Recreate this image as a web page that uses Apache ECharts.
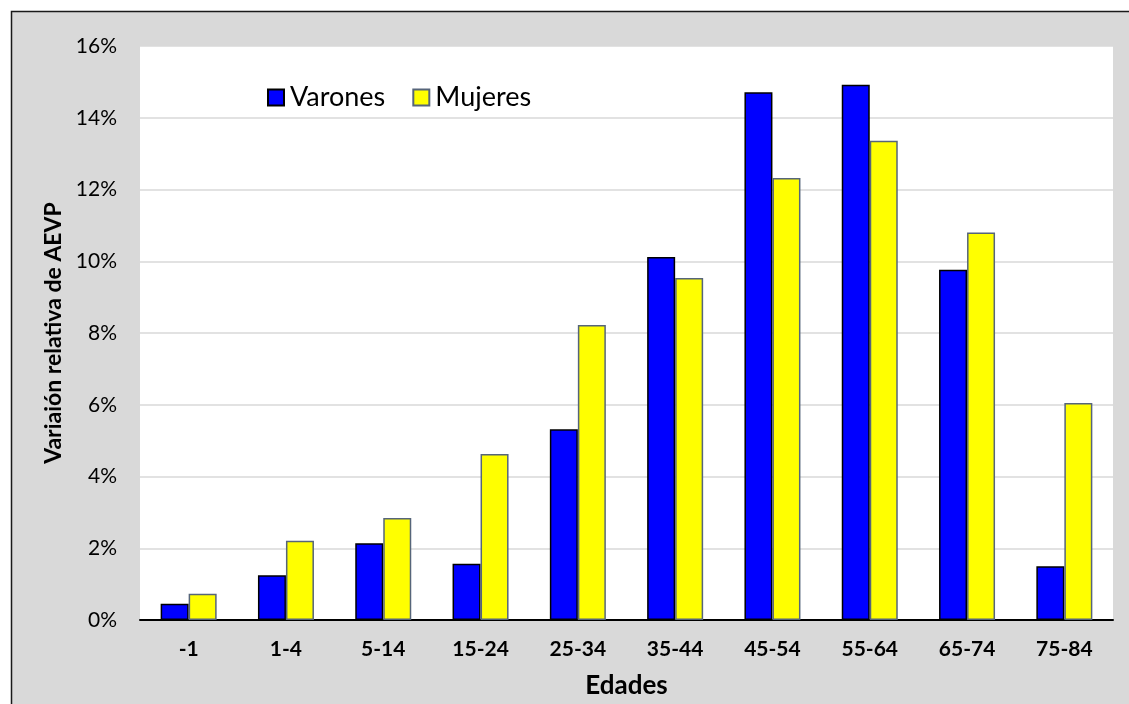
<!DOCTYPE html>
<html>
<head>
<meta charset="utf-8">
<script src="https://cdn.jsdelivr.net/npm/echarts@6/dist/echarts.min.js"></script>
<style>
html,body{margin:0;padding:0;background:#fff;}
#chart{width:1129px;height:704px;}
</style>
</head>
<body>
<div id="chart"></div>
<script>
const categories = ['-1','1-4','5-14','15-24','25-34','35-44','45-54','55-64','65-74','75-84'];
const varones = [0.45, 1.25, 2.14, 1.57, 5.32, 10.12, 14.71, 14.92, 9.76, 1.50];
const mujeres = [0.73, 2.21, 2.84, 4.63, 8.22, 9.53, 12.32, 13.36, 10.80, 6.05];
const seriesNames = ['Varones', 'Mujeres'];
const yTitle = 'Variaión relativa de AEVP';
const xTitle = 'Edades';

const FONT = 'Lato, "Open Sans", sans-serif';
const chart = echarts.init(document.getElementById('chart'), null, {renderer: 'canvas'});
chart.setOption({
  animation: false,
  backgroundColor: '#ffffff',
  graphic: [{
    type: 'rect', z: -10, silent: true,
    shape: {x: 11.5, y: 11.5, width: 1140, height: 720},
    style: {fill: '#d9d9d9', stroke: '#1a1a1a', lineWidth: 1.5}
  }],
  grid: {left: 140, right: 16, top: 46, bottom: 83, show: true, backgroundColor: '#ffffff', borderWidth: 0},
  legend: {
    left: 267, top: 84, padding: 0,
    icon: 'rect',
    itemWidth: 16, itemHeight: 16, itemGap: 27,
    textStyle: {fontFamily: FONT, fontSize: 27, color: '#000', padding: [0, 0, 0, 1]},
    data: seriesNames
  },
  xAxis: {
    type: 'category', data: categories,
    axisLine: {lineStyle: {color: '#000', width: 2}},
    axisTick: {show: false},
    axisLabel: {fontFamily: FONT, fontSize: 21, fontWeight: 'bold', color: '#000', margin: 19},
    name: xTitle, nameLocation: 'middle', nameGap: 53,
    nameTextStyle: {fontFamily: FONT, fontSize: 26, fontWeight: 'bold', color: '#000'}
  },
  yAxis: {
    type: 'value', min: 0, max: 16, interval: 2,
    axisLine: {show: false}, axisTick: {show: false},
    splitLine: {lineStyle: {color: '#d9d9d9', width: 1.5}},
    axisLabel: {fontFamily: FONT, fontSize: 21, color: '#000', margin: 23, formatter: '{value}%'},
    name: yTitle, nameLocation: 'middle', nameGap: 73,
    nameTextStyle: {fontFamily: FONT, fontSize: 23, fontWeight: 'bold', color: '#000'}
  },
  series: [
    {name: seriesNames[0], type: 'bar', data: varones, barWidth: 28, barGap: '0%',
     itemStyle: {color: '#0000ff', borderColor: '#000000', borderWidth: 1.5}},
    {name: seriesNames[1], type: 'bar', data: mujeres, barWidth: 28, barGap: '0%',
     itemStyle: {color: '#ffff00', borderColor: '#56657a', borderWidth: 1.5}}
  ]
});
</script>
</body>
</html>
